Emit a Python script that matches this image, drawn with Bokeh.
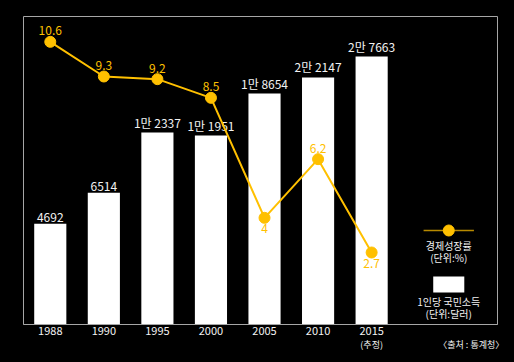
from bokeh.plotting import figure
from bokeh.models import (ColumnDataSource, Range1d, LogScale, FixedTicker, Label,
                          LinearAxis, GlobalInlineStyleSheet)
from bokeh.core.properties import value
from bokeh.embed import file_html
from bokeh.resources import INLINE

# ---------------- data ----------------
years = ["1988", "1990", "1995", "2000", "2005", "2010", "2015"]
income = [4692, 6514, 12337, 11951, 18654, 22147, 27663]          # 1인당 국민소득 (달러)
income_labels = ["4692", "6514", "1만 2337", "1만 1951", "1만 8654", "2만 2147", "2만 7663"]
growth = [10.6, 9.3, 9.2, 8.5, 4.0, 6.2, 2.7]                      # 경제성장률 (%)
growth_labels = ["10.6", "9.3", "9.2", "8.5", "4", "6.2", "2.7"]
growth_label_below = [False, False, False, False, True, False, True]
estimate_note = "(추정)"
source_note = "〈출처 : 통계청〉"
legend_line_text = ["경제성장률", "(단위:%)"]
legend_bar_text = ["1인당 국민소득", "(단위:달러)"]

# ---------------- style ----------------
FONT = "Noto Sans CJK KR"
GOLD = "#FFC000"
TEXT = "#f2f2f2"
FRAME = "#a6a6a6"

xpos = [i + 0.5 for i in range(len(years))]
INC_MIN, INC_MAX = 1608, 42300
SOURCE_X = 8.36

p = figure(width=514, height=362, output_backend="svg", toolbar_location=None,
           x_range=Range1d(0, 8.85), y_range=Range1d(0, 11.55),
           y_axis_location=None,
           min_border_left=23, min_border_right=17, min_border_top=16, min_border_bottom=38)
p.background_fill_color = "black"
p.border_fill_color = "black"
p.outline_line_color = FRAME
p.outline_line_width = 1
p.grid.visible = False
p.stylesheets = [GlobalInlineStyleSheet(css="html, body { background: #000; }")]

p.extra_y_ranges = {"inc": Range1d(INC_MIN, INC_MAX)}
p.extra_y_scales = {"inc": LogScale()}

ax = p.xaxis[0]
ax.ticker = FixedTicker(ticks=xpos)
ax.major_label_overrides = {x: y for x, y in zip(xpos, years)}
ax.major_tick_line_color = None
ax.major_tick_in = 0
ax.major_tick_out = 0
ax.minor_tick_line_color = None
ax.minor_tick_in = 0
ax.minor_tick_out = 0
ax.axis_line_color = FRAME
ax.major_label_text_color = TEXT
ax.major_label_text_font = FONT
ax.major_label_text_font_size = "11px"
ax.major_label_standoff = 2

# second row under the axis: estimate note and source note
ax2 = LinearAxis(ticker=FixedTicker(ticks=[xpos[-1], SOURCE_X]),
                 major_label_overrides={xpos[-1]: estimate_note, SOURCE_X: source_note},
                 axis_line_color=None, major_tick_line_color=None, minor_tick_line_color=None,
                 major_tick_in=0, major_tick_out=0, minor_tick_in=0, minor_tick_out=0,
                 major_label_standoff=0, major_label_text_color=TEXT,
                 major_label_text_font=FONT, major_label_text_font_size="9px")
p.add_layout(ax2, "below")

# bars
bar_src = ColumnDataSource(dict(x=xpos, top=income, label=income_labels))
p.vbar(x="x", top="top", bottom=INC_MIN, width=0.6, source=bar_src,
       y_range_name="inc", fill_color="white", line_color=None)
p.text(x="x", y="top", text="label", source=bar_src, y_range_name="inc",
       text_align="center", text_baseline="bottom", y_offset=-2,
       text_color=TEXT, text_font=value(FONT), text_font_size="12px")

# line
g_src = ColumnDataSource(dict(x=xpos, y=growth, label=growth_labels,
                              off=[11 if b else -11 for b in growth_label_below]))
p.line(x="x", y="y", source=g_src, line_color=GOLD, line_width=2)
p.scatter(x="x", y="y", source=g_src, size=11, fill_color=GOLD, line_color=GOLD)
p.text(x="x", y="y", text="label", source=g_src, y_offset="off",
       text_align="center", text_baseline="middle",
       text_color=GOLD, text_font=value(FONT), text_font_size="12px")

# legend (manual, glyph above text)
LX = 7.94
p.line(x=[LX - 0.47, LX + 0.47], y=[3.525, 3.525], line_color="#B88A00", line_width=1.5)
p.scatter(x=[LX], y=[3.525], size=11, fill_color=GOLD, line_color=GOLD)
for txt, yy in zip(legend_line_text, [2.96, 2.51]):
    p.add_layout(Label(x=LX, y=yy, text=txt, text_align="center", text_baseline="middle",
                       text_color=TEXT, text_font=FONT, text_font_size="10px"))
p.quad(left=[LX - 0.29], right=[LX + 0.29], bottom=[1.2], top=[1.8],
       fill_color="white", line_color=None)
for txt, yy in zip(legend_bar_text, [0.874, 0.424]):
    p.add_layout(Label(x=LX, y=yy, text=txt, text_align="center", text_baseline="middle",
                       text_color=TEXT, text_font=FONT, text_font_size="10px"))

open("out.html", "w").write(file_html(p, INLINE))
